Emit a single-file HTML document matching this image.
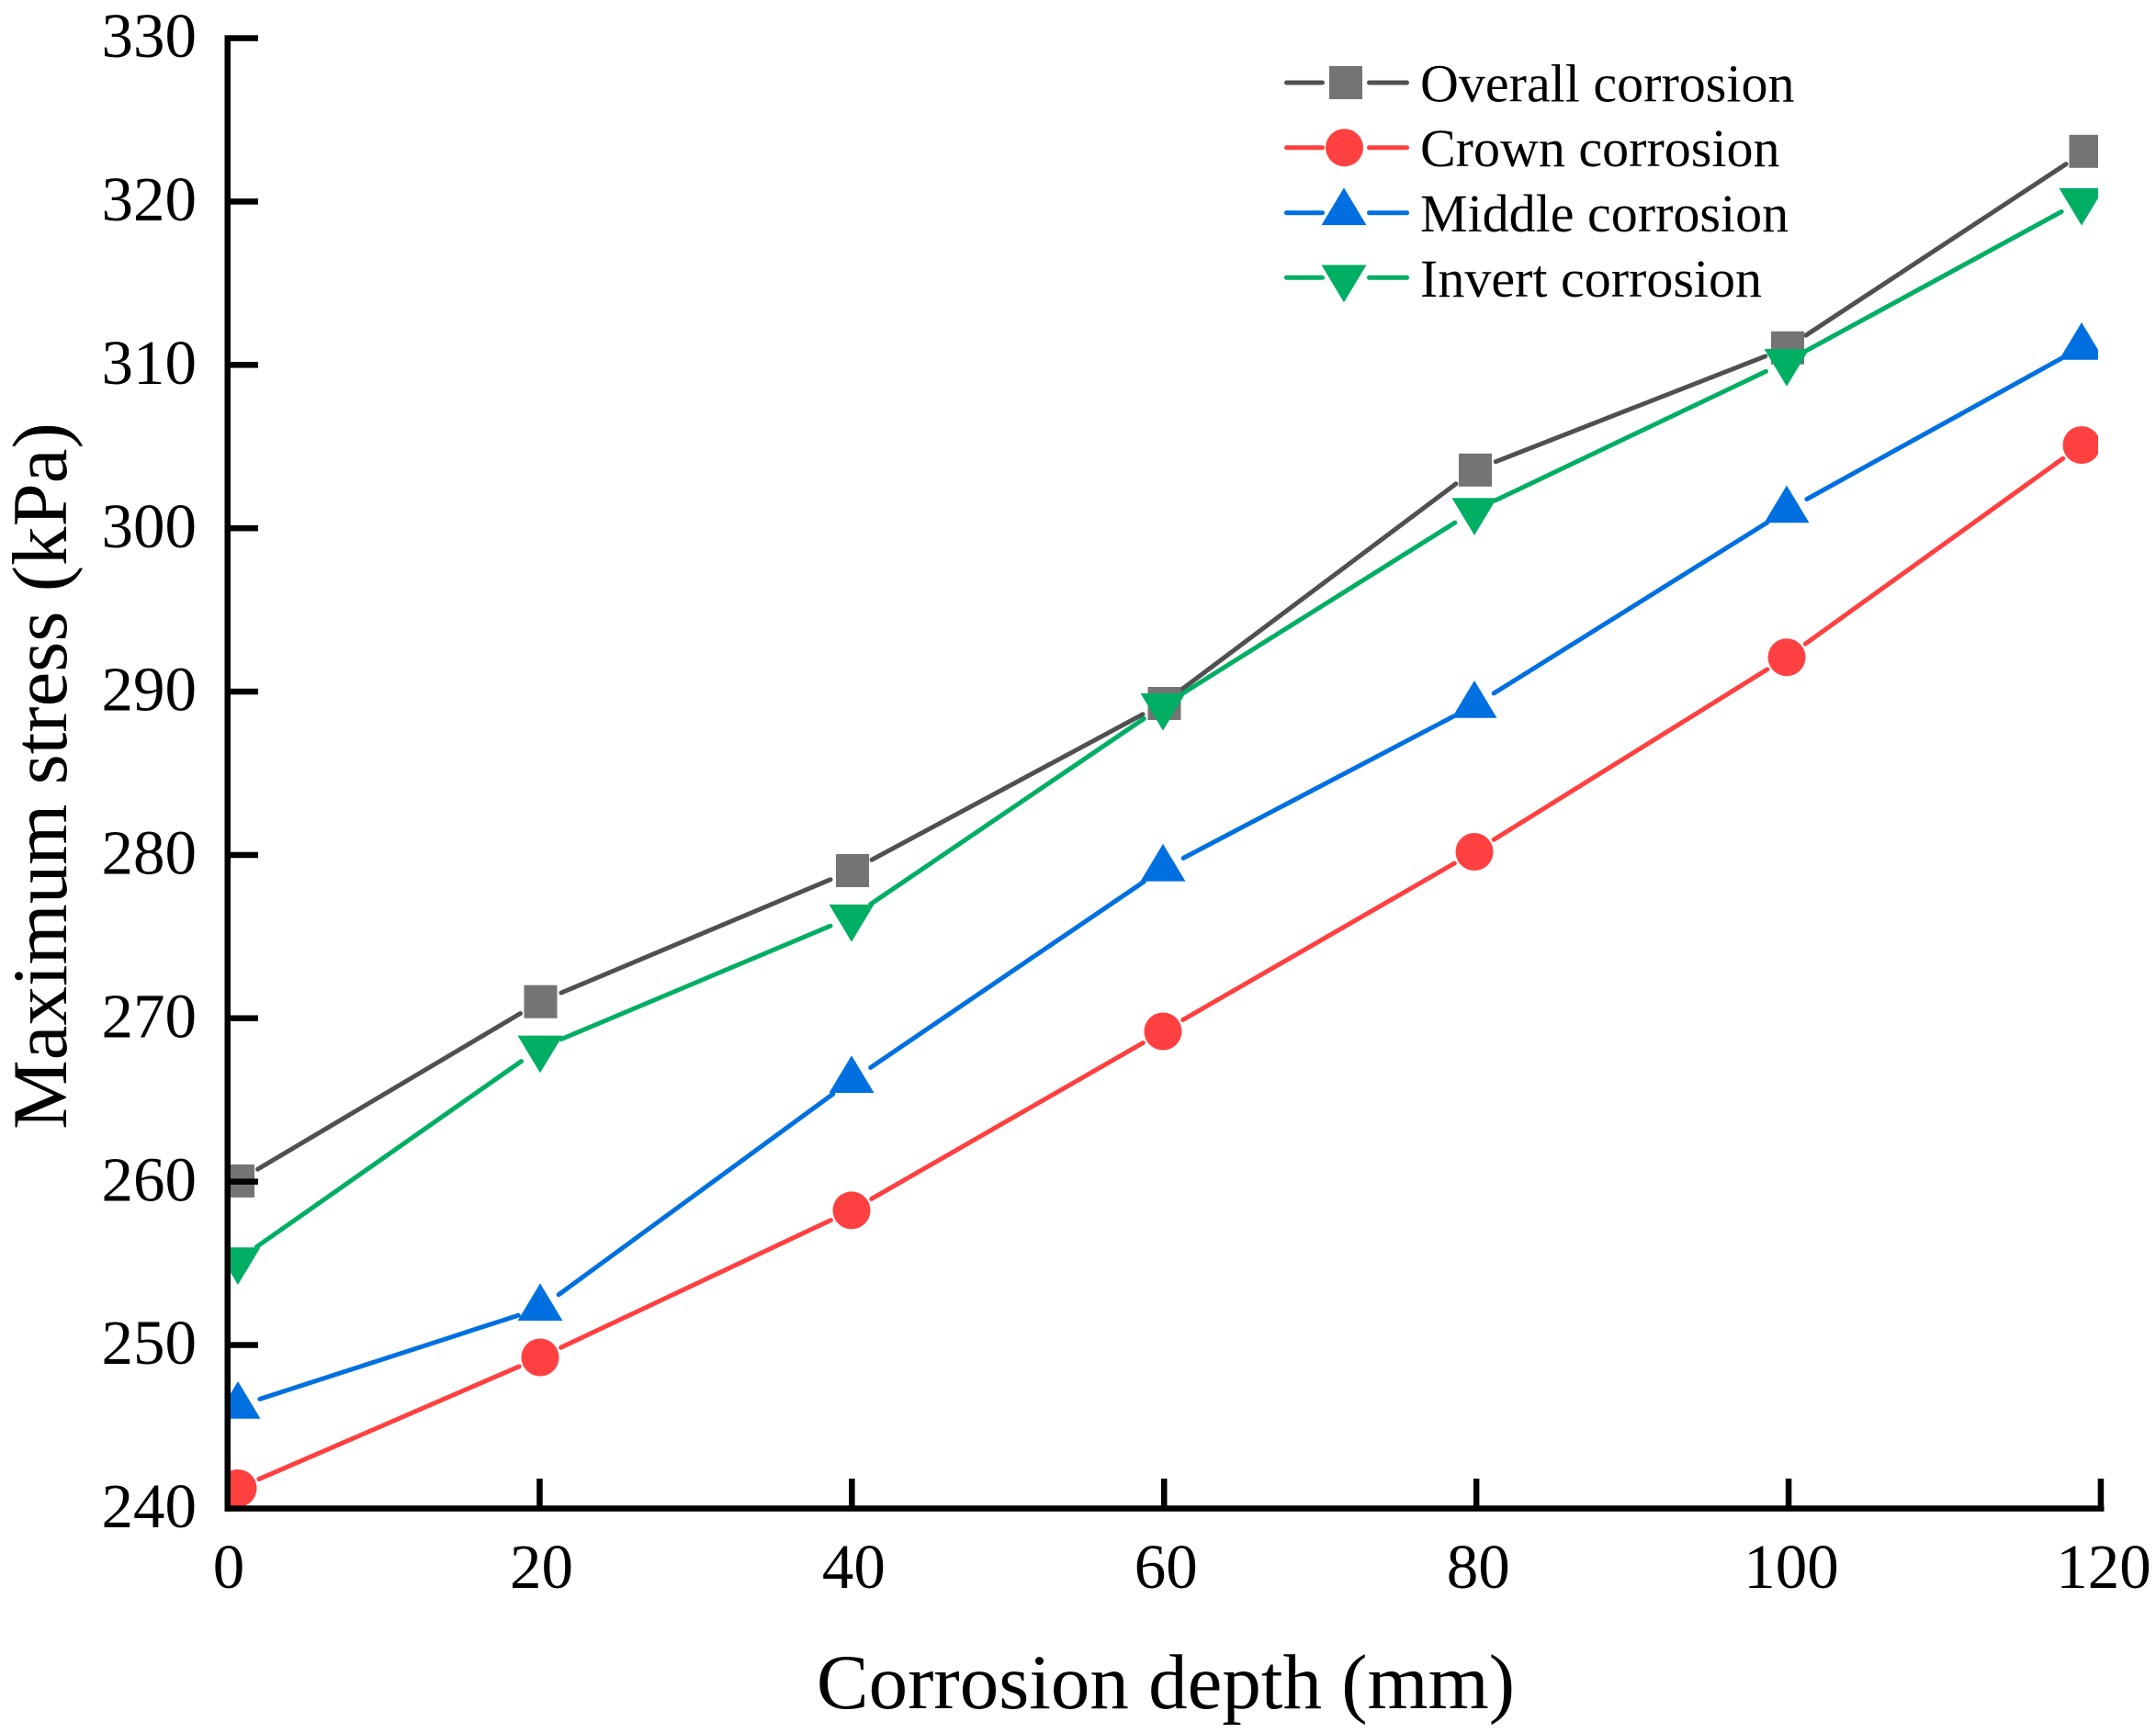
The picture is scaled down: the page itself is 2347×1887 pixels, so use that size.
<!DOCTYPE html>
<html>
<head>
<meta charset="utf-8">
<style>
html,body{margin:0;padding:0;background:#fff;}
svg{display:block;}
text{font-family:"Liberation Serif","Times New Roman",serif;fill:#000;}
</style>
</head>
<body>
<svg width="2347" height="1887" viewBox="0 0 2347 1887" xmlns="http://www.w3.org/2000/svg">
<defs>
<clipPath id="plot"><rect x="250" y="38" width="2034" height="1602"/></clipPath>
</defs>
<rect x="0" y="0" width="2347" height="1887" fill="#fff"/>

<g clip-path="url(#plot)" stroke-linecap="round" fill="none" stroke-width="5">
  <!-- Overall -->
  <g stroke="#505050">
    <line x1="280.5" y1="1273.1" x2="566.5" y2="1103.5"/>
    <line x1="611.0" y1="1081.0" x2="904.0" y2="957.7"/>
    <line x1="949.0" y1="936.2" x2="1244.0" y2="777.8"/>
    <line x1="1286.0" y1="751.0" x2="1585.0" y2="526.8"/>
    <line x1="1628.3" y1="502.7" x2="1921.7" y2="387.9"/>
    <line x1="1965.9" y1="365.1" x2="2249.1" y2="178.6"/>
  </g>
  <!-- Crown -->
  <g stroke="#ff4040">
    <line x1="281.9" y1="1610.6" x2="565.1" y2="1487.9"/>
    <line x1="610.6" y1="1467.3" x2="904.4" y2="1328.6"/>
    <line x1="948.7" y1="1305.4" x2="1244.3" y2="1135.5"/>
    <line x1="1287.7" y1="1110.5" x2="1583.3" y2="940.0"/>
    <line x1="1626.2" y1="914.3" x2="1923.8" y2="728.9"/>
    <line x1="1965.3" y1="701.1" x2="2245.7" y2="499.2"/>
  </g>
  <!-- Middle -->
  <g stroke="#0070e0">
    <line x1="282.8" y1="1523.4" x2="564.2" y2="1432.2"/>
    <line x1="608.2" y1="1409.7" x2="906.8" y2="1191.2"/>
    <line x1="947.7" y1="1162.4" x2="1245.3" y2="960.0"/>
    <line x1="1288.1" y1="934.4" x2="1582.9" y2="779.7"/>
    <line x1="1626.2" y1="754.9" x2="1923.8" y2="568.9"/>
    <line x1="1966.9" y1="543.5" x2="2244.1" y2="390.2"/>
  </g>
  <!-- Invert -->
  <g stroke="#00ae64">
    <line x1="279.5" y1="1357.5" x2="567.5" y2="1155.6"/>
    <line x1="611.0" y1="1131.5" x2="904.0" y2="1008.2"/>
    <line x1="947.7" y1="984.5" x2="1245.3" y2="782.5"/>
    <line x1="1287.2" y1="755.2" x2="1583.8" y2="569.1"/>
    <line x1="1627.6" y1="545.0" x2="1922.4" y2="404.4"/>
    <line x1="1966.9" y1="381.6" x2="2244.1" y2="230.5"/>
  </g>

  <!-- Overall markers -->
  <g fill="#747474" stroke="none">
    <rect x="241" y="1267.9" width="36" height="36"/>
    <rect x="570.5" y="1072.7" width="36" height="36"/>
    <rect x="910" y="930.0" width="36" height="36"/>
    <rect x="1249.5" y="748" width="36" height="36"/>
    <rect x="1588" y="493.8" width="36" height="36"/>
    <rect x="1928" y="360.8" width="36" height="36"/>
    <rect x="2252.5" y="146.8" width="36" height="36"/>
  </g>
  <!-- Crown markers -->
  <g fill="#ff4040" stroke="none">
    <circle cx="259" cy="1620.5" r="20.5"/>
    <circle cx="588" cy="1478.0" r="20.5"/>
    <circle cx="927" cy="1317.9" r="20.5"/>
    <circle cx="1266" cy="1123.0" r="20.5"/>
    <circle cx="1605" cy="927.5" r="20.5"/>
    <circle cx="1945" cy="715.7" r="20.5"/>
    <circle cx="2266" cy="484.6" r="20.5"/>
  </g>
  <!-- Middle markers -->
  <g fill="#0070e0" stroke="none">
    <polygon points="259,1504 234.5,1544.7 283.5,1544.7"/>
    <polygon points="588,1397.4 563.5,1438.1 612.5,1438.1"/>
    <polygon points="927,1149.3 902.5,1190 951.5,1190"/>
    <polygon points="1266,918.9 1241.5,959.6 1290.5,959.6"/>
    <polygon points="1605,741 1580.5,781.7 1629.5,781.7"/>
    <polygon points="1945,528.5 1920.5,569.2 1969.5,569.2"/>
    <polygon points="2266,351 2241.5,391.7 2290.5,391.7"/>
  </g>
  <!-- Invert markers -->
  <g fill="#00ae64" stroke="none">
    <polygon points="234.5,1358.3 283.5,1358.3 259,1399"/>
    <polygon points="563.5,1127.6 612.5,1127.6 588,1168.3"/>
    <polygon points="902.5,984.9 951.5,984.9 927,1025.6"/>
    <polygon points="1241.5,754.9 1290.5,754.9 1266,795.6"/>
    <polygon points="1580.5,542.2 1629.5,542.2 1605,582.9"/>
    <polygon points="1920.5,380 1969.5,380 1945,420.7"/>
    <polygon points="2241.5,204.9 2290.5,204.9 2266,245.6"/>
  </g>
</g>

<!-- Axes -->
<g fill="#000">
  <rect x="244.5" y="38.3" width="6.5" height="1607.4"/>
  <rect x="244.5" y="1639.3" width="2046" height="6.5"/>
  <!-- y ticks -->
  <rect x="250" y="38.3" width="31" height="6.5"/>
  <rect x="250" y="216.2" width="31" height="6.5"/>
  <rect x="250" y="394.1" width="31" height="6.5"/>
  <rect x="250" y="571.9" width="31" height="6.5"/>
  <rect x="250" y="749.8" width="31" height="6.5"/>
  <rect x="250" y="927.7" width="31" height="6.5"/>
  <rect x="250" y="1105.5" width="31" height="6.5"/>
  <rect x="250" y="1283.4" width="31" height="6.5"/>
  <rect x="250" y="1461.3" width="31" height="6.5"/>
  <!-- x ticks -->
  <rect x="584.2" y="1610" width="6.5" height="31"/>
  <rect x="924.1" y="1610" width="6.5" height="31"/>
  <rect x="1264.0" y="1610" width="6.5" height="31"/>
  <rect x="1603.9" y="1610" width="6.5" height="31"/>
  <rect x="1943.8" y="1610" width="6.5" height="31"/>
  <rect x="2283.7" y="1610" width="6.5" height="31"/>
</g>

<!-- Y tick labels -->
<g font-size="69" text-anchor="end">
  <text x="214" y="62.2">330</text>
  <text x="214" y="240.1">320</text>
  <text x="214" y="418.0">310</text>
  <text x="214" y="595.8">300</text>
  <text x="214" y="773.7">290</text>
  <text x="214" y="951.6">280</text>
  <text x="214" y="1129.4">270</text>
  <text x="214" y="1307.3">260</text>
  <text x="214" y="1485.2">250</text>
  <text x="214" y="1663.0">240</text>
</g>
<!-- X tick labels -->
<g font-size="69" text-anchor="middle">
  <text x="249" y="1729">0</text>
  <text x="589.5" y="1729">20</text>
  <text x="929.4" y="1729">40</text>
  <text x="1269.3" y="1729">60</text>
  <text x="1609.2" y="1729">80</text>
  <text x="1950" y="1729">100</text>
  <text x="2290" y="1729">120</text>
</g>

<!-- Axis titles -->
<text x="1269" y="1860" font-size="85" text-anchor="middle">Corrosion depth (mm)</text>
<text transform="translate(72,845) rotate(-90)" x="0" y="0" font-size="85" text-anchor="middle">Maximum stress (kPa)</text>

<!-- Legend -->
<g stroke-width="5" stroke-linecap="round" fill="none">
  <line x1="1400.5" y1="90" x2="1439.5" y2="90" stroke="#505050"/>
  <line x1="1490.5" y1="90" x2="1531.5" y2="90" stroke="#505050"/>
  <line x1="1400.5" y1="160.7" x2="1439.5" y2="160.7" stroke="#ff4040"/>
  <line x1="1490.5" y1="160.7" x2="1531.5" y2="160.7" stroke="#ff4040"/>
  <line x1="1400.5" y1="231.7" x2="1439.5" y2="231.7" stroke="#0070e0"/>
  <line x1="1490.5" y1="231.7" x2="1531.5" y2="231.7" stroke="#0070e0"/>
  <line x1="1400.5" y1="302.3" x2="1439.5" y2="302.3" stroke="#00ae64"/>
  <line x1="1490.5" y1="302.3" x2="1531.5" y2="302.3" stroke="#00ae64"/>
</g>
<rect x="1447" y="72" width="36" height="36" fill="#747474"/>
<circle cx="1463.5" cy="160.7" r="20.5" fill="#ff4040"/>
<polygon points="1463,204.4 1438.5,245.1 1487.5,245.1" fill="#0070e0"/>
<polygon points="1438.5,288.5 1487.5,288.5 1463,329.2" fill="#00ae64"/>
<g font-size="58">
  <text x="1546" y="110.5">Overall corrosion</text>
  <text x="1546" y="181.2">Crown corrosion</text>
  <text x="1546" y="252.2">Middle corrosion</text>
  <text x="1546" y="322.8">Invert corrosion</text>
</g>
</svg>
</body>
</html>
